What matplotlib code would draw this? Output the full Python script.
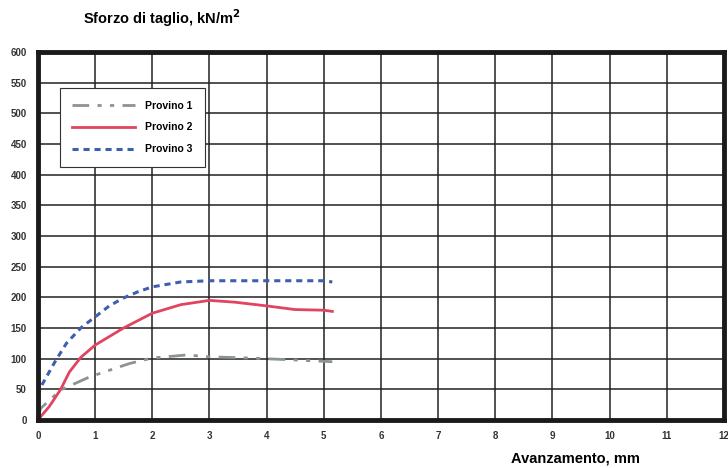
import matplotlib
matplotlib.use("Agg")
import matplotlib.pyplot as plt
import numpy as np

plt.rcParams['font.family'] = ['Liberation Sans', 'DejaVu Sans']

# Provino 1 (grigio, tratto-punto)
x1 = [0.0, 0.05, 0.4, 0.9, 1.25, 1.6, 2.0, 2.6, 3.0, 3.7, 4.45, 5.15]
y1 = [5, 19, 49, 70, 81, 92, 101, 106, 103, 101, 98, 95]
# Provino 2 (rosso, continuo)
x2 = [0.0, 0.2, 0.4, 0.55, 0.75, 1.0, 1.5, 2.0, 2.5, 3.0, 3.45, 4.0, 4.5, 5.0, 5.15]
y2 = [0, 22, 50, 78, 102, 122, 150, 174, 188, 195, 192, 186, 180, 179, 177]
# Provino 3 (blu, punteggiato)
x3 = [0.07, 0.3, 0.5, 0.75, 1.0, 1.25, 1.5, 1.75, 2.0, 2.5, 3.0, 3.5, 4.0, 4.5, 5.0, 5.15]
y3 = [57, 95, 125, 150, 168, 186, 199, 209, 217, 225, 227, 227, 227, 227, 227, 225]

xticks = list(range(0, 13))
yticks = list(range(0, 601, 50))

fig = plt.figure(figsize=(7.28, 4.68), dpi=100)
ax = fig.add_axes([0.052, 0.1026, 0.9425, 0.7864])

ax.plot(x1, y1, color='#8a9490', lw=2.0, dashes=(6, 3, 1.5, 3, 1.5, 3), label='Provino 1')
ax.plot(x2, y2, color='#e0445e', lw=2.0, label='Provino 2')
ax.plot(x3, y3, color='#3e5fae', lw=2.2, dashes=(2, 1.6), label='Provino 3')

ax.set_xlim(0, 12)
ax.set_ylim(0, 600)
ax.set_xticks(xticks)
ax.set_yticks(yticks)
ax.grid(True, color='#222222', lw=1.1)
ax.set_axisbelow(True)
for s in ax.spines.values():
    s.set_linewidth(3.5)
    s.set_color('#1a1a1a')
ax.tick_params(length=0, labelsize=7, pad=8)
for t in ax.get_xticklabels() + ax.get_yticklabels():
    t.set_fontweight('bold')
    t.set_color('#333333')

leg = ax.legend(loc='upper left', bbox_to_anchor=(0.032, 0.902),
                prop={'weight': 'bold', 'size': 7.5}, handlelength=6.0,
                fancybox=False, framealpha=1, edgecolor='#333333',
                labelspacing=1.15, borderpad=1.2, borderaxespad=0,
                handletextpad=1.0)
leg.get_frame().set_linewidth(0.8)

fig.text(0.114, 0.962, r'Sforzo di taglio, kN/m$^\mathbf{2}$', fontsize=10.5,
         fontweight='bold', ha='left', va='center')
fig.text(0.79, 0.021, 'Avanzamento, mm', fontsize=10.5, fontweight='bold',
         ha='center', va='center')

fig.savefig('out.png', dpi=100)
